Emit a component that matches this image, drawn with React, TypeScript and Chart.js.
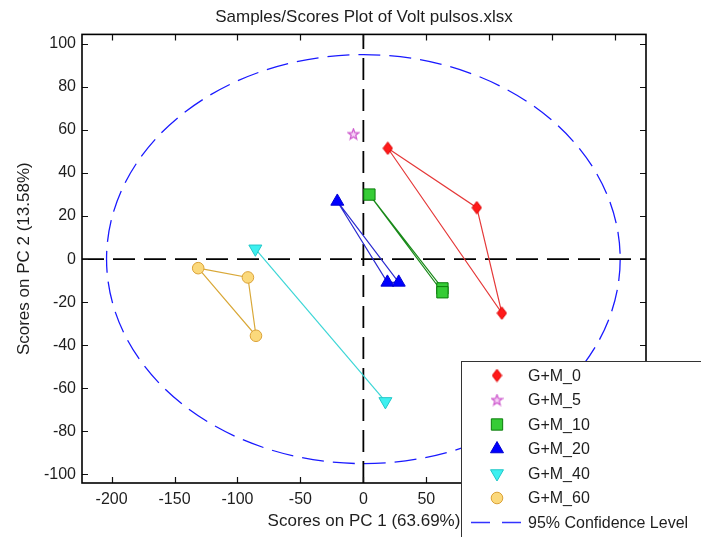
import { useEffect, useRef } from 'react';
import { Chart, registerables } from 'chart.js';
import { drawPoint } from 'chart.js/helpers';

Chart.register(...registerables);

const TITLE = 'Samples/Scores Plot of Volt pulsos.xlsx';
const X_LABEL = 'Scores on PC 1 (63.69%)';
const Y_LABEL = 'Scores on PC 2 (13.58%)';
const CONF_LABEL = '95% Confidence Level';

const X_TICKS = [-200, -150, -100, -50, 0, 50, 100, 150, 200];
const Y_TICKS = [-100, -80, -60, -40, -20, 0, 20, 40, 60, 80, 100];

const GROUPS = ['G+M_0', 'G+M_5', 'G+M_10', 'G+M_20', 'G+M_40', 'G+M_60'];

// PCA scores per group (PC1, PC2)
const GM0_PC1 = [19.4, 90.1, 110.0];
const GM0_PC2 = [51.5, 23.9, -25.1];
const GM5_PC1 = [-7.9];
const GM5_PC2 = [58.1];
const GM10_PC1 = [4.8, 62.8, 62.8];
const GM10_PC2 = [30.0, -13.6, -15.4];
const GM20_PC1 = [-20.7, 19.1, 28.1];
const GM20_PC2 = [26.8, -10.8, -10.8];
const GM40_PC1 = [-85.8, 17.5];
const GM40_PC2 = [4.8, -66.1];
const GM60_PC1 = [-131.2, -91.7, -85.3];
const GM60_PC2 = [-4.2, -8.5, -35.6];

// semi-axes of the 95% confidence ellipse (scores units)
const CONF_PC1_RADIUS = 204;
const CONF_PC2_RADIUS = 95;

const FONT = '"Liberation Sans", Arial, Helvetica, sans-serif';
const TEXT = '#1e1e1e';

function makeDiamond(): HTMLCanvasElement {
  const c = document.createElement('canvas');
  c.width = 11;
  c.height = 14;
  const g = c.getContext('2d')!;
  g.beginPath();
  g.moveTo(5.5, 0.8);
  g.lineTo(10.2, 7);
  g.lineTo(5.5, 13.2);
  g.lineTo(0.8, 7);
  g.closePath();
  g.fillStyle = '#ff1a1a';
  g.fill();
  g.strokeStyle = '#dd0000';
  g.lineWidth = 1;
  g.stroke();
  return c;
}

function makeStar(): HTMLCanvasElement {
  const c = document.createElement('canvas');
  c.width = 13;
  c.height = 13;
  const g = c.getContext('2d')!;
  const cx = 6.5, cy = 6.8, ro = 5.6, ri = 2.4;
  g.beginPath();
  for (let i = 0; i < 10; i++) {
    const r = i % 2 === 0 ? ro : ri;
    const a = -Math.PI / 2 + (i * Math.PI) / 5;
    const px = cx + r * Math.cos(a);
    const py = cy + r * Math.sin(a);
    if (i === 0) g.moveTo(px, py);
    else g.lineTo(px, py);
  }
  g.closePath();
  g.fillStyle = '#f6d2f6';
  g.fill();
  g.strokeStyle = '#cc55cc';
  g.lineWidth = 1.2;
  g.stroke();
  return c;
}

type GroupStyle = {
  pointStyle: any;
  radius: number;
  rotation: number;
  fill: string;
  border: string;
  borderWidth: number;
  line: string;
};

const framePlugin = {
  id: 'frame',
  beforeDatasetsDraw(chart: any) {
    const { ctx, chartArea: a, scales } = chart;
    const xs = scales.x;
    const ys = scales.y;
    const x0 = xs.getPixelForValue(0);
    const y0 = ys.getPixelForValue(0);

    ctx.save();
    ctx.beginPath();
    ctx.rect(a.left, a.top, a.right - a.left, a.bottom - a.top);
    ctx.clip();

    // confidence ellipse
    const rx = xs.getPixelForValue(CONF_PC1_RADIUS) - x0;
    const ry = y0 - ys.getPixelForValue(CONF_PC2_RADIUS);
    ctx.beginPath();
    ctx.ellipse(x0, y0, rx, ry, 0, 0, Math.PI * 2);
    ctx.setLineDash([22, 9]);
    ctx.strokeStyle = '#1a1aff';
    ctx.lineWidth = 1.3;
    ctx.stroke();

    // zero lines
    ctx.strokeStyle = '#000';
    ctx.lineWidth = 1.8;
    ctx.setLineDash([22, 9]);
    ctx.beginPath();
    ctx.moveTo(a.left, y0);
    ctx.lineTo(a.right, y0);
    ctx.stroke();
    ctx.beginPath();
    ctx.moveTo(x0, a.bottom);
    ctx.lineTo(x0, a.top);
    ctx.stroke();
    ctx.restore();

    // box and inward ticks
    ctx.save();
    ctx.strokeStyle = '#111';
    ctx.lineWidth = 1.2;
    const tl = 6;
    ctx.beginPath();
    for (const v of X_TICKS) {
      const px = Math.round(xs.getPixelForValue(v)) + 0.5;
      ctx.moveTo(px, a.bottom);
      ctx.lineTo(px, a.bottom - tl);
      ctx.moveTo(px, a.top);
      ctx.lineTo(px, a.top + tl);
    }
    for (const v of Y_TICKS) {
      const py = Math.round(ys.getPixelForValue(v)) + 0.5;
      ctx.moveTo(a.left, py);
      ctx.lineTo(a.left + tl, py);
      ctx.moveTo(a.right, py);
      ctx.lineTo(a.right - tl, py);
    }
    ctx.stroke();
    ctx.lineWidth = 1.6;
    ctx.strokeStyle = '#000';
    ctx.strokeRect(a.left, a.top, a.right - a.left, a.bottom - a.top);
    ctx.restore();
  },
};

function makeLegendPlugin(styles: GroupStyle[]) {
  return {
    id: 'boxLegend',
    afterDraw(chart: any) {
      const { ctx } = chart;
      const bx = 461.5, by = 361.5;
      ctx.save();
      ctx.fillStyle = '#fff';
      ctx.fillRect(bx, by, 400, 400);
      ctx.strokeStyle = '#333';
      ctx.lineWidth = 1;
      ctx.strokeRect(bx, by, 400, 400);

      const mx = 497, tx = 528, y0 = 375.5, step = 24.5;
      ctx.font = `16px ${FONT}`;
      ctx.textBaseline = 'middle';
      ctx.textAlign = 'left';
      GROUPS.forEach((name, i) => {
        const s = styles[i];
        const y = y0 + i * step;
        ctx.save();
        ctx.fillStyle = s.fill;
        ctx.strokeStyle = s.border;
        ctx.lineWidth = s.borderWidth;
        drawPoint(ctx, { pointStyle: s.pointStyle, radius: s.radius, rotation: s.rotation, borderWidth: s.borderWidth }, mx, y);
        ctx.restore();
        ctx.fillStyle = TEXT;
        ctx.fillText(name, tx, y + 1);
      });
      const yc = y0 + GROUPS.length * step;
      ctx.beginPath();
      ctx.setLineDash([19, 12]);
      ctx.strokeStyle = '#3333ff';
      ctx.lineWidth = 1.5;
      ctx.moveTo(471, yc);
      ctx.lineTo(522, yc);
      ctx.stroke();
      ctx.setLineDash([]);
      ctx.fillStyle = TEXT;
      ctx.fillText(CONF_LABEL, tx, yc + 1);
      ctx.restore();
    },
  };
}

export default function App() {
  const ref = useRef<HTMLCanvasElement>(null);

  useEffect(() => {
    const canvas = ref.current;
    if (!canvas) return;

    const styles: GroupStyle[] = [
      { pointStyle: makeDiamond(), radius: 7, rotation: 0, fill: '#ff1a1a', border: '#dd0000', borderWidth: 1, line: '#e53a3a' },
      { pointStyle: makeStar(), radius: 6, rotation: 0, fill: '#f6d2f6', border: '#cc55cc', borderWidth: 1, line: '#cc55cc' },
      { pointStyle: 'rect', radius: 8, rotation: 0, fill: '#36cc36', border: '#0b7d0b', borderWidth: 1, line: '#1a8a1a' },
      { pointStyle: 'triangle', radius: 7.5, rotation: 0, fill: '#0000ff', border: '#0000d0', borderWidth: 1, line: '#2b2bd0' },
      { pointStyle: 'triangle', radius: 7.5, rotation: 180, fill: '#3ef0f0', border: '#22c8c8', borderWidth: 1, line: '#3cd6d6' },
      { pointStyle: 'circle', radius: 5.8, rotation: 0, fill: '#fbd97c', border: '#dba237', borderWidth: 1, line: '#d9a838' },
    ];

    const groups = [
      { xs: GM0_PC1, ys: GM0_PC2, closed: true },
      { xs: GM5_PC1, ys: GM5_PC2, closed: false },
      { xs: GM10_PC1, ys: GM10_PC2, closed: true },
      { xs: GM20_PC1, ys: GM20_PC2, closed: true },
      { xs: GM40_PC1, ys: GM40_PC2, closed: false },
      { xs: GM60_PC1, ys: GM60_PC2, closed: true },
    ];

    const datasets = groups.map((g, i) => {
      const s = styles[i];
      const pts = g.xs.map((x, k) => ({ x, y: g.ys[k] }));
      const n = pts.length;
      const path = g.closed && n > 2 ? [...pts, pts[0]] : pts;
      return {
        label: GROUPS[i],
        data: path,
        showLine: n > 1,
        borderColor: s.line,
        borderWidth: 1.2,
        backgroundColor: s.fill,
        pointStyle: s.pointStyle,
        pointRotation: s.rotation,
        pointRadius: (c: any) => (c.dataIndex < n ? s.radius : 0),
        pointBackgroundColor: s.fill,
        pointBorderColor: s.border,
        pointBorderWidth: s.borderWidth,
        pointHoverRadius: s.radius,
      };
    });

    const chart = new Chart(canvas, {
      type: 'scatter',
      data: { datasets } as any,
      options: {
        responsive: false,
        animation: false,
        devicePixelRatio: 1,
        events: [],
        font: { family: FONT } as any,
        layout: { padding: { left: 0, right: 55, top: 0, bottom: 0 } },
        plugins: {
          legend: { display: false },
          tooltip: { enabled: false },
          title: {
            display: true,
            text: TITLE,
            fullSize: false,
            color: TEXT,
            font: { family: FONT, size: 17, weight: 'normal' },
            padding: { top: 7, bottom: 7 },
          },
        },
        scales: {
          x: {
            type: 'linear',
            position: 'bottom',
            min: -223.5,
            max: 224.5,
            afterBuildTicks: (s: any) => {
              s.ticks = X_TICKS.map((v) => ({ value: v }));
            },
            afterFit: (s: any) => {
              s.height = 54;
            },
            grid: { display: false, drawTicks: false },
            border: { display: false },
            ticks: { color: TEXT, font: { family: FONT, size: 16 }, padding: 7, maxRotation: 0, autoSkip: false },
            title: {
              display: true,
              text: X_LABEL,
              color: TEXT,
              font: { family: FONT, size: 17 },
              padding: { top: 0, bottom: 5 },
            },
          },
          y: {
            type: 'linear',
            position: 'left',
            min: -104,
            max: 104.4,
            afterBuildTicks: (s: any) => {
              s.ticks = Y_TICKS.map((v) => ({ value: v }));
            },
            afterFit: (s: any) => {
              s.width = 82;
            },
            grid: { display: false, drawTicks: false },
            border: { display: false },
            ticks: { color: TEXT, font: { family: FONT, size: 16 }, padding: 6, autoSkip: false },
            title: {
              display: true,
              text: Y_LABEL,
              color: TEXT,
              font: { family: FONT, size: 17 },
              padding: { top: 14, bottom: 0 },
            },
          },
        },
      } as any,
      plugins: [framePlugin, makeLegendPlugin(styles)],
    });

    return () => chart.destroy();
  }, []);

  return (
    <div style={{ position: 'absolute', left: 0, top: 0, width: 701, height: 537, background: '#fff' }}>
      <canvas ref={ref} width={701} height={537} style={{ display: 'block' }} />
    </div>
  );
}
